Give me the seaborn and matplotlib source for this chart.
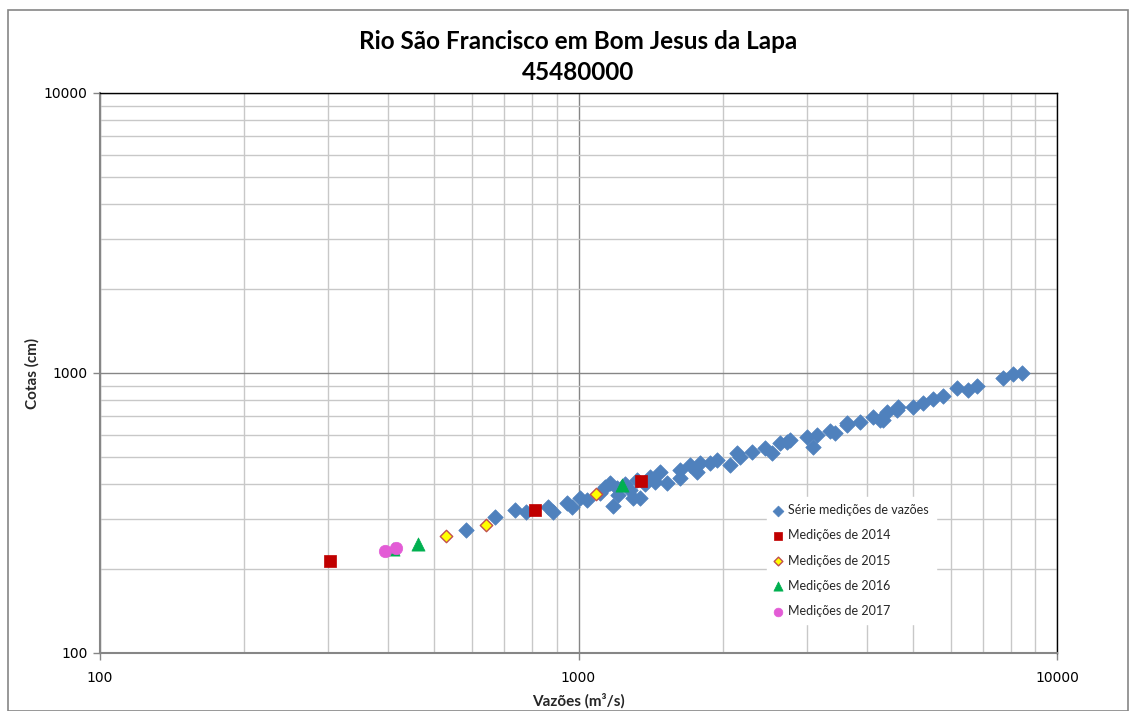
import matplotlib
matplotlib.use("Agg")
import matplotlib.pyplot as plt
import seaborn as sns
import pandas as pd
from matplotlib.ticker import LogLocator, NullFormatter, FixedLocator, FixedFormatter
from matplotlib.patches import Rectangle

# ---- data ----
serie_q = [582, 669, 737, 777, 864, 885, 946, 969, 1007, 1042, 1109, 1136, 1181, 1163,
           1203, 1209, 1251, 1281, 1300, 1344, 1325, 1377, 1410, 1445, 1480, 1531, 1630,
           1630, 1710, 1769, 1795, 1883, 1947, 2074, 2144, 2175, 2305, 2454, 2538, 2637,
           2767, 2728, 3003, 3091, 3151, 3354, 3436, 3641, 3641, 3875, 4126, 4267, 4330,
           4413, 4630, 4652, 5001, 5248, 5507, 5777, 6180, 6516, 6805, 7711, 8091, 8452]
serie_h = [275, 307, 325, 320, 333, 320, 344, 333, 358, 353, 374, 393, 336, 406,
           389, 368, 402, 383, 358, 358, 416, 402, 426, 409, 444, 406, 452,
           423, 471, 444, 478, 478, 490, 471, 519, 503, 524, 541, 519, 564,
           578, 569, 593, 546, 603, 623, 613, 665, 654, 670, 699, 682, 682,
           728, 740, 759, 759, 784, 810, 831, 887, 873, 895, 963, 988, 1004]

q2014 = [302, 811, 1351]
h2014 = [213, 325, 412]
q2015 = [529, 641, 1088]
h2015 = [262, 287, 371]
q2016 = [410, 462, 1233]
h2016 = [236, 245, 399]
q2017 = [394, 416]
h2017 = [232, 238]

labels = ["Série medições de vazões", "Medições de 2014", "Medições de 2015",
          "Medições de 2016", "Medições de 2017"]
title = "Rio São Francisco em Bom Jesus da Lapa\n45480000"
xlabel = "Vazões (m³/s)"
ylabel = "Cotas (cm)"

sns.set_style("white")
plt.rcParams['font.family'] = ['Lato', 'DejaVu Sans']

fig = plt.figure(figsize=(11.31, 7.11), dpi=100)
ax = fig.add_axes([100/1131, 1-653/711, 957/1131, 560/711])

d0 = pd.DataFrame({"q": serie_q, "h": serie_h})
d1 = pd.DataFrame({"q": q2014, "h": h2014})
d2 = pd.DataFrame({"q": q2015, "h": h2015})
d3 = pd.DataFrame({"q": q2016, "h": h2016})
d4 = pd.DataFrame({"q": q2017, "h": h2017})

sns.scatterplot(data=d0, x="q", y="h", ax=ax, marker="D", s=62, color="#4F81BD",
                edgecolor="#4F81BD", linewidth=0.5, label=labels[0], zorder=3)
sns.scatterplot(data=d1, x="q", y="h", ax=ax, marker="s", s=80, color="#C00000",
                edgecolor="#C00000", linewidth=0.5, label=labels[1], zorder=4)
sns.scatterplot(data=d2, x="q", y="h", ax=ax, marker="D", s=40, color="#FFFF00",
                edgecolor="#C0504D", linewidth=1.0, label=labels[2], zorder=4)
sns.scatterplot(data=d3, x="q", y="h", ax=ax, marker="^", s=90, color="#00B050",
                edgecolor="#00B050", linewidth=0.5, label=labels[3], zorder=4)
sns.scatterplot(data=d4, x="q", y="h", ax=ax, marker="o", s=80, color="#E35CD6",
                edgecolor="#E35CD6", linewidth=0.5, label=labels[4], zorder=5)

ax.set_xscale("log")
ax.set_yscale("log")
ax.set_xlim(100, 10000)
ax.set_ylim(100, 10000)

ax.xaxis.set_major_locator(FixedLocator([100, 1000, 10000]))
ax.xaxis.set_major_formatter(FixedFormatter(["100", "1000", "10000"]))
ax.yaxis.set_major_locator(FixedLocator([100, 1000, 10000]))
ax.yaxis.set_major_formatter(FixedFormatter(["100", "1000", "10000"]))
ax.xaxis.set_minor_locator(LogLocator(base=10, subs=range(2, 10)))
ax.yaxis.set_minor_locator(LogLocator(base=10, subs=range(2, 10)))
ax.xaxis.set_minor_formatter(NullFormatter())
ax.yaxis.set_minor_formatter(NullFormatter())

ax.grid(True, which="major", color="#868686", linewidth=1.0, zorder=0)
ax.grid(True, which="minor", color="#C8C8C8", linewidth=1.0, zorder=0)
ax.set_axisbelow(True)

ax.tick_params(axis="both", which="major", direction="out", length=5, width=1,
               color="#868686", labelsize=10, labelcolor="black", bottom=True, left=True)
ax.tick_params(axis="both", which="minor", length=0)
ax.tick_params(axis="x", pad=8)
ax.tick_params(axis="y", pad=4)
for lab in ax.get_xticklabels() + ax.get_yticklabels():
    lab.set_fontfamily("DejaVu Sans")

for s in ["left", "bottom"]:
    ax.spines[s].set_color("#868686")
    ax.spines[s].set_linewidth(1.5)
for s in ["top", "right"]:
    ax.spines[s].set_color("black")
    ax.spines[s].set_linewidth(1.0)
    ax.spines[s].set_visible(True)

ax.set_xlabel(xlabel, fontsize=11, fontweight="bold", labelpad=6)
ax.set_ylabel(ylabel, fontsize=11, fontweight="bold", labelpad=3)

fig.text(578/1131, 1-57/711, title, ha="center", va="center", fontsize=17.5,
         fontweight="bold", linespacing=1.45, color="black")

leg = ax.legend(loc="upper left", bbox_to_anchor=(0.69, 0.29), frameon=True,
                fontsize=9, labelspacing=1.05, handlelength=0.7, handletextpad=0.4,
                borderpad=0.6, fancybox=False, markerscale=0.7)
leg.get_frame().set_edgecolor("white")
leg.get_frame().set_facecolor("white")
leg.get_frame().set_alpha(1.0)
leg.set_zorder(10)

# outer chart border
fig.patches.append(Rectangle((8/1131, 0), 1 - 8/1131 - 3/1131, 1 - 10/711,
                             transform=fig.transFigure, fill=False,
                             edgecolor="#868686", linewidth=1.2))

fig.savefig("out.png", dpi=100)
